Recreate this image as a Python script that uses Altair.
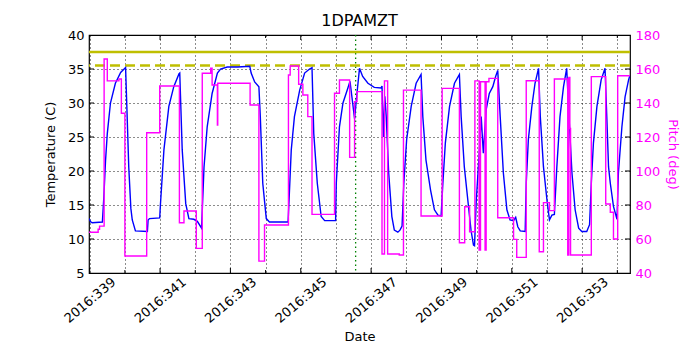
import altair as alt
import pandas as pd

# Temperature (1DPAMZT, deg C) vs day of year 2016
temp_day = [338.98, 339.03, 339.07, 339.36, 339.40, 339.45, 339.50, 339.59, 339.73, 339.88,
            340.00, 340.02, 340.05, 340.11, 340.17, 340.21, 340.30, 340.64, 340.66, 340.70,
            340.99, 341.01, 341.11, 341.25, 341.39, 341.54, 341.56, 341.63, 341.73, 341.82,
            341.96, 342.06, 342.18, 342.25, 342.34, 342.48, 342.63, 342.72, 342.91, 343.21,
            343.55, 343.59, 343.69, 343.81, 343.85, 343.92, 344.02, 344.11, 344.64, 344.73,
            344.82, 344.97, 345.11, 345.25, 345.32, 345.37, 345.47, 345.58, 345.68, 345.99,
            346.01, 346.10, 346.20, 346.34, 346.40, 346.53, 346.60, 346.67, 346.76, 346.91,
            347.09, 347.28, 347.31, 347.35, 347.39, 347.43, 347.50, 347.59, 347.66, 347.76,
            347.82, 347.88, 347.93, 348.01, 348.14, 348.28, 348.42, 348.47, 348.56, 348.69,
            348.80, 348.90, 348.99, 349.04, 349.11, 349.23, 349.37, 349.51, 349.56, 349.65,
            349.75, 349.84, 349.91, 349.94, 349.99, 350.08, 350.13, 350.19, 350.27, 350.36,
            350.46, 350.54, 350.60, 350.67, 350.76, 350.86, 350.95, 351.05, 351.11, 351.17,
            351.24, 351.38, 351.41, 351.47, 351.57, 351.66, 351.76, 351.81, 351.90, 352.00,
            352.07, 352.14, 352.21, 352.28, 352.37, 352.47, 352.56, 352.63, 352.71, 352.80,
            352.90, 352.99, 353.13, 353.21, 353.26, 353.32, 353.42, 353.54, 353.65, 353.70,
            353.75, 353.80, 353.89, 353.99, 354.03, 354.13, 354.22, 354.32, 354.36]
temp_val = [13.0, 12.5, 12.4, 12.5, 16.0, 21.5, 25.5, 30.0, 32.9, 34.5,
            35.1, 35.2, 30.4, 20.6, 14.5, 12.8, 11.2, 11.1, 12.8, 13.0,
            13.1, 15.0, 23.1, 29.5, 32.4, 34.3, 34.4, 23.1, 15.2, 13.0,
            12.9, 12.6, 11.6, 20.6, 26.5, 31.4, 34.4, 35.0, 35.3, 35.3,
            35.4, 34.4, 33.1, 32.4, 28.0, 18.2, 13.0, 12.5, 12.5, 23.1,
            28.0, 31.9, 34.4, 35.0, 35.2, 25.5, 18.2, 13.3, 12.7, 12.7,
            18.2, 26.5, 30.0, 32.2, 33.2, 27.7, 31.5, 35.1, 33.9, 32.9,
            32.3, 32.2, 32.5, 25.0, 31.0, 28.0, 19.7, 13.3, 11.3, 11.0,
            11.3, 11.9, 18.2, 24.6, 29.5, 32.9, 34.2, 28.0, 21.6, 17.2,
            14.3, 13.5, 13.4, 18.2, 24.1, 29.5, 32.9, 34.2, 28.0, 20.6,
            15.7, 11.3, 9.1, 9.0, 15.7, 23.1, 28.0, 22.6, 29.0, 31.4,
            32.4, 33.9, 34.8, 28.0, 19.7, 14.3, 12.8, 12.7, 13.2, 11.8,
            11.2, 11.1, 18.2, 24.6, 29.5, 32.9, 35.1, 28.0, 20.6, 15.7,
            12.8, 13.5, 13.6, 20.6, 28.0, 32.4, 35.1, 27.5, 19.7, 14.3,
            11.6, 11.1, 11.1, 12.1, 18.2, 24.1, 29.5, 33.4, 35.1, 28.0,
            20.6, 18.2, 14.8, 12.9, 19.7, 26.5, 30.9, 33.4, 34.1]

# Pitch (deg), step changes
pitch_day = [338.98, 339.24, 339.28, 339.41, 339.50, 339.83, 339.90, 340.00, 340.62, 340.99,
             341.55, 341.68, 342.03, 342.20, 342.44, 342.48, 342.63, 342.64, 343.56, 343.81,
             343.97, 344.65, 344.70, 344.94, 345.06, 345.20, 345.32, 345.96, 346.10, 346.39,
             346.53, 346.60, 347.31, 347.38, 347.47, 347.80, 347.92, 348.42, 349.02, 349.51,
             349.66, 349.80, 349.95, 350.07, 350.11, 350.24, 350.27, 350.35, 350.60, 351.05,
             351.14, 351.41, 351.78, 351.90, 352.07, 352.21, 352.59, 352.62, 352.65, 352.67,
             353.26, 353.67, 353.80, 353.89, 354.01, 354.36]
pitch_val = [64.0, 65.7, 67.6, 165.9, 153.0, 154.1, 134.0, 50.0, 122.5, 150.0,
             69.6, 76.5, 54.5, 157.5, 160.4, 150.6, 127.0, 151.6, 138.8, 47.0,
             68.2, 156.5, 161.8, 151.0, 144.7, 132.0, 74.5, 145.7, 153.5, 108.0,
             140.8, 146.7, 51.2, 153.0, 51.2, 50.6, 147.6, 73.5, 148.6, 57.8,
             79.0, 64.3, 153.0, 53.5, 152.5, 53.5, 152.5, 154.5, 72.5, 59.8,
             49.2, 153.1, 52.5, 81.4, 76.7, 154.1, 50.6, 155.0, 125.0, 50.6,
             155.5, 80.6, 75.7, 60.0, 156.0, 156.0]

planning_limit = [37.5]
caution_limit = [35.5]
marker_day = [346.56]

x_ticks = list(range(339, 355))
major_days = [339, 341, 343, 345, 347, 349, 351, 353]
minor_days = [340, 342, 344, 346, 348, 350, 352, 354]
temp_ticks = [5, 10, 15, 20, 25, 30, 35, 40]
pitch_ticks = [40, 60, 80, 100, 120, 140, 160, 180]

W, H = 541, 238

temp_df = pd.DataFrame({"day": temp_day, "temp": temp_val})
pitch_df = pd.DataFrame({"day": pitch_day, "pitch": pitch_val})
plan_df = pd.DataFrame({"temp": planning_limit})
caut_df = pd.DataFrame({"temp": caution_limit})
mark_df = pd.DataFrame({"day": marker_day})
major_df = pd.DataFrame({"day": major_days})
minor_df = pd.DataFrame({"day": minor_days})
ytick_df = pd.DataFrame({"temp": temp_ticks[1:-1]})

FONT = "DejaVu Sans"
common = dict(labelFont=FONT, titleFont=FONT, labelFontSize=13, titleFontSize=13,
              titleFontWeight="normal", ticks=False, domain=False)

x_scale = alt.Scale(domain=[338.98, 354.36], nice=False, zero=False)
x_axis = alt.Axis(values=x_ticks,
                  labelExpr="datum.value % 2 == 1 ? '2016:' + datum.value : ''",
                  labelAngle=-40, labelAlign="center", labelBaseline="middle",
                  labelPadding=27, labelOverlap=False, labelFlush=False,
                  grid=True, gridDash=[1, 3], gridColor="black", gridOpacity=0.9,
                  labelColor="black", titleColor="black",
                  title="Date", titlePadding=5, **common)
X = alt.X("day:Q", scale=x_scale, axis=x_axis)

t_scale = alt.Scale(domain=[5, 40], nice=False, zero=False)
t_axis = alt.Axis(values=temp_ticks, grid=True, gridDash=[1, 3], gridColor="black",
                  gridOpacity=0.9, labelPadding=5, labelColor="black", titleColor="black",
                  title="Temperature (C)", titlePadding=10, **common)
Y_T = alt.Y("temp:Q", scale=t_scale, axis=t_axis)

temp_line = alt.Chart(temp_df).mark_line(color="#0000ff", strokeWidth=1.4, clip=True).encode(x=X, y=Y_T)
plan_rule = alt.Chart(plan_df).mark_rule(color="#bfbf00", strokeWidth=2.5).encode(y=Y_T)
caut_rule = alt.Chart(caut_df).mark_rule(color="#bfbf00", strokeWidth=2.5, strokeDash=[10, 5]).encode(y=Y_T)
marker = alt.Chart(mark_df).mark_rule(color="#008000", strokeWidth=1.3, strokeDash=[1.5, 3]).encode(x=X)

# inward tick marks (matplotlib style)
tk = dict(color="black", strokeWidth=1)
bot_major = alt.Chart(major_df).mark_rule(**tk).encode(x=X, y=alt.value(H), y2=alt.value(H - 5))
bot_minor = alt.Chart(minor_df).mark_rule(**tk).encode(x=X, y=alt.value(H), y2=alt.value(H - 3))
top_major = alt.Chart(major_df).mark_rule(**tk).encode(x=X, y=alt.value(0), y2=alt.value(5))
top_minor = alt.Chart(minor_df).mark_rule(**tk).encode(x=X, y=alt.value(0), y2=alt.value(3))
left_t = alt.Chart(ytick_df).mark_rule(**tk).encode(y=Y_T, x=alt.value(0), x2=alt.value(5))
right_t = alt.Chart(ytick_df).mark_rule(**tk).encode(y=Y_T, x=alt.value(W - 5), x2=alt.value(W))

left = alt.layer(marker, plan_rule, caut_rule, bot_major, bot_minor, top_major, top_minor,
                 left_t, right_t, temp_line)

p_scale = alt.Scale(domain=[40, 180], nice=False, zero=False)
p_axis = alt.Axis(orient="right", values=pitch_ticks, grid=False,
                  labelColor="#ff00ff", titleColor="#ff00ff", labelPadding=5,
                  title="Pitch (deg)", titlePadding=6, **common)
pitch_line = alt.Chart(pitch_df).mark_line(color="#ff00ff", strokeWidth=1.4, interpolate="step-after",
                                           clip=True).encode(
    x=X, y=alt.Y("pitch:Q", scale=p_scale, axis=p_axis))

chart = alt.layer(left, pitch_line).resolve_scale(y="independent").properties(
    width=W, height=H,
    title=alt.TitleParams("1DPAMZT", fontSize=16, font=FONT, fontWeight="normal",
                          anchor="middle", offset=0, color="black"),
    autosize=alt.AutoSizeParams(type="none"),
    padding={"left": 81, "top": 27, "right": 62, "bottom": 76},
    background="white",
).configure_view(stroke="black", strokeWidth=1.2)

chart.save("out.html", embed_options={"renderer": "svg", "actions": False})
